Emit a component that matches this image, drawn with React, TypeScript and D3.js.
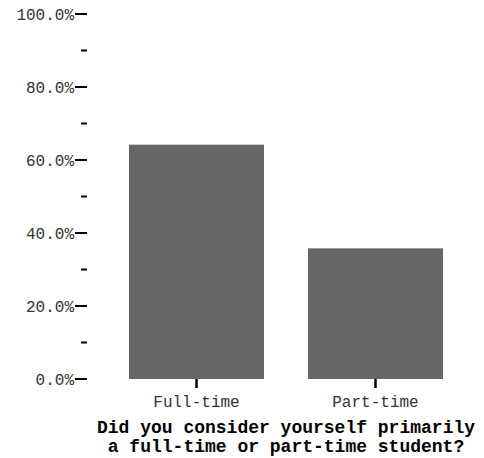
import React from "react";
import * as d3 from "d3";

const categories = ["Full-time", "Part-time"];
const values = [0.642, 0.358];
const majorTicks = [0, 0.2, 0.4, 0.6, 0.8, 1.0];
const minorTicks = [0.1, 0.3, 0.5, 0.7, 0.9];
const titleLines = ["Did you consider yourself primarily", "a full-time or part-time student?"];

export default function App() {
  const W = 484, H = 458;
  const y = d3.scaleLinear().domain([0, 1]).range([379, 14]);
  const x = d3.scaleBand<string>().domain(categories).range([107, 465]).paddingInner(0.2458).paddingOuter(0.123);
  const fmt = d3.format(".1%");
  const font = "'Courier New', Courier, 'Liberation Mono', monospace";
  const axisX = 87;
  return (
    <svg width={W} height={H} style={{ position: "absolute", left: 0, top: 0 }}>
      <rect width={W} height={H} fill="#fff" />
      {categories.map((c, i) => (
        <rect key={c} x={x(c)} y={y(values[i])} width={x.bandwidth()} height={y(0) - y(values[i])} fill="#666666" />
      ))}
      {majorTicks.map((t) => (
        <g key={t}>
          <line x1={axisX - 12} x2={axisX} y1={y(t)} y2={y(t)} stroke="#000" strokeWidth={2} />
          <text x={axisX - 13} y={y(t)} dy="0.35em" textAnchor="end" fontFamily={font} fontSize={16} fill="#333">{fmt(t)}</text>
        </g>
      ))}
      {minorTicks.map((t) => (
        <line key={t} x1={axisX - 6} x2={axisX} y1={y(t)} y2={y(t)} stroke="#000" strokeWidth={2} />
      ))}
      {categories.map((c) => {
        const cx = (x(c) as number) + x.bandwidth() / 2;
        return (
          <g key={c}>
            <line x1={cx} x2={cx} y1={379} y2={388} stroke="#000" strokeWidth={2.5} />
            <text x={cx} y={406.5} textAnchor="middle" fontFamily={font} fontSize={16} fill="#333">{c}</text>
          </g>
        );
      })}
      {titleLines.map((l, i) => (
        <text key={i} x={286} y={433 + i * 19} textAnchor="middle" fontFamily={font} fontSize={18} fontWeight="bold" fill="#000">{l}</text>
      ))}
    </svg>
  );
}
